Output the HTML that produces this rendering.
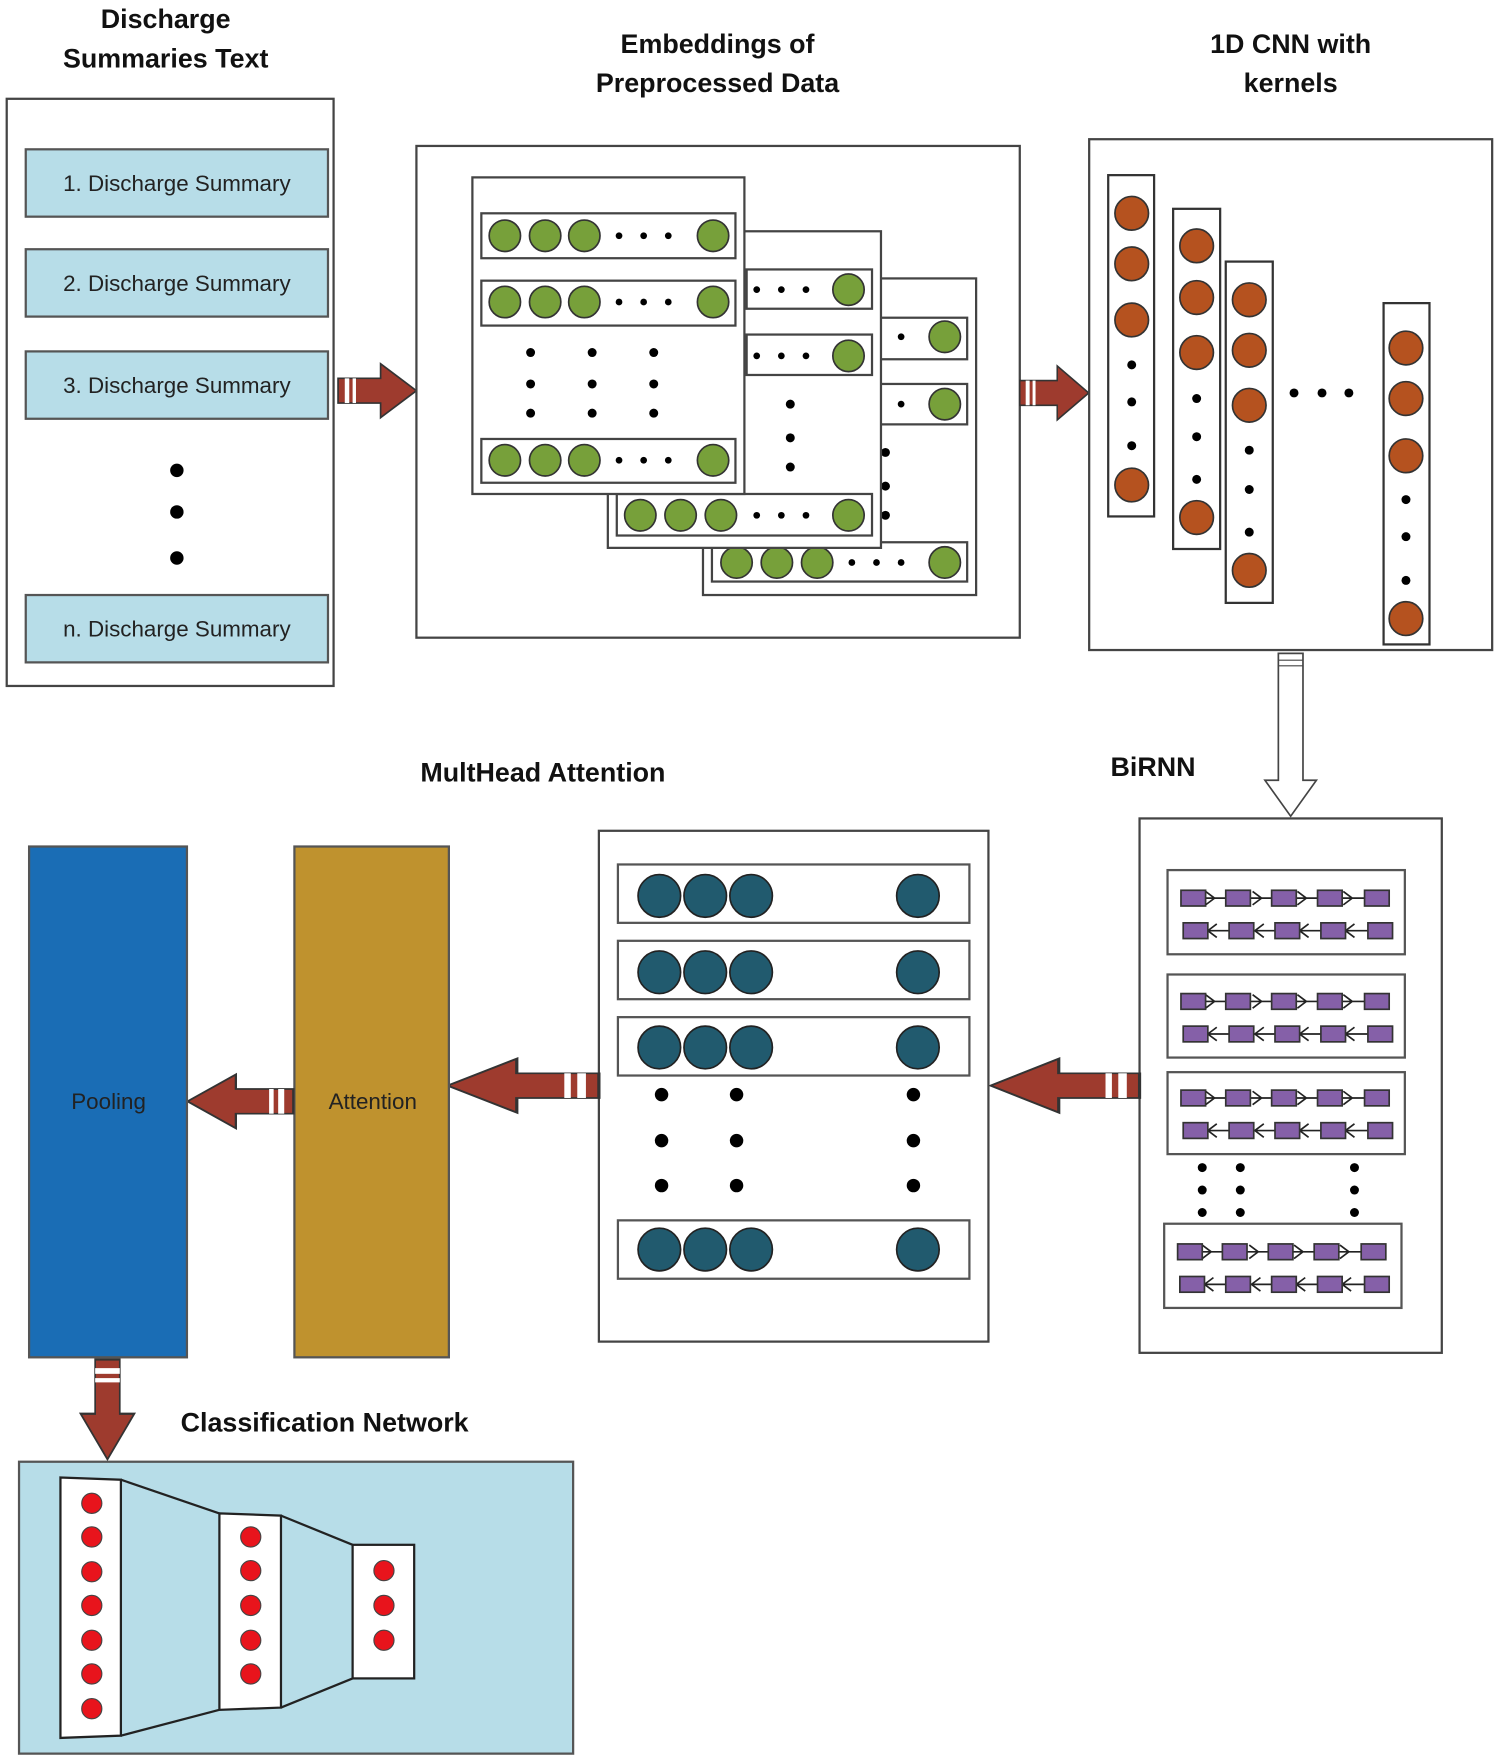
<!DOCTYPE html>
<html><head><meta charset="utf-8"><style>html,body{margin:0;padding:0;background:#fff}svg{display:block}</style></head><body>
<svg width="1500" height="1757" viewBox="0 0 1340 1565" preserveAspectRatio="none" xmlns="http://www.w3.org/2000/svg" font-family="Liberation Sans, sans-serif">
<defs>
<g id="ra"><path d="M0,-11 H38 V-24 L70,0 L38,24 V11 H0 Z" fill="#9e3b2e" stroke="#333" stroke-width="1.5"/><rect x="6" y="-11" width="4" height="22" fill="#fff"/><rect x="13" y="-11" width="3" height="22" fill="#fff"/></g>
<g id="brow"><rect x="0" y="-7" width="22" height="14" fill="#8560a8" stroke="#333" stroke-width="1.5"/></g>
</defs>
<g font-weight="bold" font-size="24" text-anchor="middle" fill="#111">
<text x="148" y="25">Discharge</text><text x="148" y="60">Summaries Text</text>
<text x="641" y="47">Embeddings of</text><text x="641" y="82">Preprocessed Data</text>
<text x="1153" y="47">1D CNN with</text><text x="1153" y="82">kernels</text>
<text x="1030" y="691">BiRNN</text>
<text x="485" y="696">MultHead Attention</text>
<text x="290" y="1275">Classification Network</text>
</g>
<!-- left box -->
<rect x="6" y="88" width="292" height="523" fill="#fff" stroke="#444" stroke-width="2"/>
<g fill="#b7dde8" stroke="#555" stroke-width="2">
<rect x="23" y="133" width="270" height="60"/><rect x="23" y="222" width="270" height="60"/><rect x="23" y="313" width="270" height="60"/><rect x="23" y="530" width="270" height="60"/></g>
<g font-size="20" text-anchor="middle" fill="#222">
<text x="158" y="170">1. Discharge Summary</text><text x="158" y="259">2. Discharge Summary</text><text x="158" y="350">3. Discharge Summary</text><text x="158" y="567">n. Discharge Summary</text></g>
<g fill="#000"><circle cx="158" cy="419" r="6"/><circle cx="158" cy="456" r="6"/><circle cx="158" cy="497" r="6"/></g>
<use href="#ra" transform="translate(302,348)"/>
<!-- embeddings -->
<rect x="372" y="130" width="539" height="438" fill="#fff" stroke="#444" stroke-width="2"/>
<g stroke="#444" stroke-width="2" fill="#fff">
<rect x="628" y="248" width="244" height="282"/>
<rect x="786" y="283" width="78" height="37"/><rect x="786" y="342" width="78" height="36"/><rect x="636" y="483" width="228" height="35"/>
</g>
<g fill="#000"><circle cx="805" cy="300" r="3"/><circle cx="805" cy="360" r="3"/><circle cx="791" cy="403" r="4"/><circle cx="791" cy="433" r="4"/><circle cx="791" cy="459" r="4"/><circle cx="761" cy="501" r="3"/><circle cx="783" cy="501" r="3"/><circle cx="805" cy="501" r="3"/></g>
<g fill="#77a03a" stroke="#333" stroke-width="1.5"><circle cx="844" cy="300" r="14"/><circle cx="844" cy="360" r="14"/><circle cx="658" cy="501" r="14"/><circle cx="694" cy="501" r="14"/><circle cx="730" cy="501" r="14"/><circle cx="844" cy="501" r="14"/></g>
<g stroke="#444" stroke-width="2" fill="#fff">
<rect x="543" y="206" width="244" height="282"/>
<rect x="667" y="240" width="112" height="35"/><rect x="667" y="298" width="112" height="36"/><rect x="551" y="440" width="228" height="37"/>
</g>
<g fill="#000"><circle cx="676" cy="258" r="3"/><circle cx="698" cy="258" r="3"/><circle cx="720" cy="258" r="3"/><circle cx="676" cy="317" r="3"/><circle cx="698" cy="317" r="3"/><circle cx="720" cy="317" r="3"/><circle cx="706" cy="360" r="4"/><circle cx="706" cy="390" r="4"/><circle cx="706" cy="416" r="4"/><circle cx="676" cy="459" r="3"/><circle cx="698" cy="459" r="3"/><circle cx="720" cy="459" r="3"/></g>
<g fill="#77a03a" stroke="#333" stroke-width="1.5"><circle cx="758" cy="258" r="14"/><circle cx="758" cy="317" r="14"/><circle cx="572" cy="459" r="14"/><circle cx="608" cy="459" r="14"/><circle cx="644" cy="459" r="14"/><circle cx="758" cy="459" r="14"/></g>
<g stroke="#444" stroke-width="2" fill="#fff">
<rect x="422" y="158" width="243" height="282"/>
<rect x="430" y="190" width="227" height="40"/><rect x="430" y="250" width="227" height="40"/><rect x="430" y="391" width="227" height="39"/>
</g>
<g fill="#000">
<circle cx="553" cy="210" r="3"/><circle cx="575" cy="210" r="3"/><circle cx="597" cy="210" r="3"/>
<circle cx="553" cy="269" r="3"/><circle cx="575" cy="269" r="3"/><circle cx="597" cy="269" r="3"/>
<circle cx="553" cy="410" r="3"/><circle cx="575" cy="410" r="3"/><circle cx="597" cy="410" r="3"/>
<circle cx="474" cy="314" r="4"/><circle cx="529" cy="314" r="4"/><circle cx="584" cy="314" r="4"/>
<circle cx="474" cy="342" r="4"/><circle cx="529" cy="342" r="4"/><circle cx="584" cy="342" r="4"/>
<circle cx="474" cy="368" r="4"/><circle cx="529" cy="368" r="4"/><circle cx="584" cy="368" r="4"/></g>
<g fill="#77a03a" stroke="#333" stroke-width="1.5">
<circle cx="451" cy="210" r="14"/><circle cx="487" cy="210" r="14"/><circle cx="522" cy="210" r="14"/><circle cx="637" cy="210" r="14"/>
<circle cx="451" cy="269" r="14"/><circle cx="487" cy="269" r="14"/><circle cx="522" cy="269" r="14"/><circle cx="637" cy="269" r="14"/>
<circle cx="451" cy="410" r="14"/><circle cx="487" cy="410" r="14"/><circle cx="522" cy="410" r="14"/><circle cx="637" cy="410" r="14"/></g>
<use href="#ra" transform="translate(911,350) scale(0.88,1)"/>
<!-- CNN -->
<rect x="973" y="124" width="360" height="455" fill="#fff" stroke="#444" stroke-width="2"/>
<g fill="#fff" stroke="#333" stroke-width="2"><rect x="990" y="156" width="41" height="304"/><rect x="1048" y="186" width="42" height="303"/><rect x="1095" y="233" width="42" height="304"/><rect x="1236" y="270" width="41" height="304"/></g>
<g fill="#b5521f" stroke="#333" stroke-width="1.5">
<circle cx="1011" cy="190" r="15"/><circle cx="1011" cy="235" r="15"/><circle cx="1011" cy="285" r="15"/><circle cx="1011" cy="432" r="15"/>
<circle cx="1069" cy="219" r="15"/><circle cx="1069" cy="265" r="15"/><circle cx="1069" cy="314" r="15"/><circle cx="1069" cy="461" r="15"/>
<circle cx="1116" cy="267" r="15"/><circle cx="1116" cy="312" r="15"/><circle cx="1116" cy="361" r="15"/><circle cx="1116" cy="508" r="15"/>
<circle cx="1256" cy="310" r="15"/><circle cx="1256" cy="355" r="15"/><circle cx="1256" cy="406" r="15"/><circle cx="1256" cy="551" r="15"/></g>
<g fill="#000">
<circle cx="1011" cy="325" r="4"/><circle cx="1011" cy="358" r="4"/><circle cx="1011" cy="397" r="4"/>
<circle cx="1069" cy="355" r="4"/><circle cx="1069" cy="389" r="4"/><circle cx="1069" cy="427" r="4"/>
<circle cx="1116" cy="401" r="4"/><circle cx="1116" cy="436" r="4"/><circle cx="1116" cy="474" r="4"/>
<circle cx="1256" cy="445" r="4"/><circle cx="1256" cy="478" r="4"/><circle cx="1256" cy="517" r="4"/>
<circle cx="1156" cy="350" r="4"/><circle cx="1181" cy="350" r="4"/><circle cx="1205" cy="350" r="4"/></g>
<!-- down hollow arrow -->
<path d="M1142,582 H1164 V695 H1176 L1153,727 L1130,695 H1142 Z" fill="#fff" stroke="#444" stroke-width="1.5"/>
<line x1="1142" y1="588" x2="1164" y2="588" stroke="#444"/><line x1="1142" y1="593" x2="1164" y2="593" stroke="#444"/>
<!-- BiRNN -->
<rect x="1018" y="729" width="270" height="476" fill="#fff" stroke="#444" stroke-width="2"/>
<g fill="#fff" stroke="#555" stroke-width="2"><rect x="1043" y="775" width="212" height="75"/><rect x="1043" y="868" width="212" height="74"/><rect x="1043" y="955" width="212" height="73"/><rect x="1040" y="1090" width="212" height="75"/></g>
<g id="bg">
<g stroke="#222" stroke-width="1.5" fill="none">
<path d="M1055,800 H1222 M1077,794 l8,6 l-8,6 M1119,794 l8,6 l-8,6 M1159,794 l8,6 l-8,6 M1200,794 l8,6 l-8,6"/>
<path d="M1057,829 H1224 M1087,823 l-8,6 l8,6 M1129,823 l-8,6 l8,6 M1169,823 l-8,6 l8,6 M1210,823 l-8,6 l8,6"/></g>
<use href="#brow" x="1055" y="800"/><use href="#brow" x="1095" y="800"/><use href="#brow" x="1136" y="800"/><use href="#brow" x="1177" y="800"/><use href="#brow" x="1219" y="800"/>
<use href="#brow" x="1057" y="829"/><use href="#brow" x="1098" y="829"/><use href="#brow" x="1139" y="829"/><use href="#brow" x="1180" y="829"/><use href="#brow" x="1222" y="829"/>
</g>
<use href="#bg" y="92"/><use href="#bg" y="178"/><use href="#bg" x="-3" y="315"/>
<g fill="#000"><circle cx="1074" cy="1040" r="4"/><circle cx="1074" cy="1060" r="4"/><circle cx="1074" cy="1080" r="4"/><circle cx="1108" cy="1040" r="4"/><circle cx="1108" cy="1060" r="4"/><circle cx="1108" cy="1080" r="4"/><circle cx="1210" cy="1040" r="4"/><circle cx="1210" cy="1060" r="4"/><circle cx="1210" cy="1080" r="4"/></g>
<use href="#ra" transform="translate(1018,967) scale(-1.9,1)"/>
<!-- MHA -->
<rect x="535" y="740" width="348" height="455" fill="#fff" stroke="#444" stroke-width="2"/>
<g fill="#fff" stroke="#555" stroke-width="2"><rect x="552" y="770" width="314" height="52"/><rect x="552" y="838" width="314" height="52"/><rect x="552" y="906" width="314" height="52"/><rect x="552" y="1087" width="314" height="52"/></g>
<g fill="#215a6e" stroke="#222" stroke-width="1.5">
<circle cx="589" cy="798" r="19"/><circle cx="630" cy="798" r="19"/><circle cx="671" cy="798" r="19"/><circle cx="820" cy="798" r="19"/>
<circle cx="589" cy="866" r="19"/><circle cx="630" cy="866" r="19"/><circle cx="671" cy="866" r="19"/><circle cx="820" cy="866" r="19"/>
<circle cx="589" cy="933" r="19"/><circle cx="630" cy="933" r="19"/><circle cx="671" cy="933" r="19"/><circle cx="820" cy="933" r="19"/>
<circle cx="589" cy="1113" r="19"/><circle cx="630" cy="1113" r="19"/><circle cx="671" cy="1113" r="19"/><circle cx="820" cy="1113" r="19"/></g>
<g fill="#000"><circle cx="591" cy="975" r="6"/><circle cx="658" cy="975" r="6"/><circle cx="816" cy="975" r="6"/><circle cx="591" cy="1016" r="6"/><circle cx="658" cy="1016" r="6"/><circle cx="816" cy="1016" r="6"/><circle cx="591" cy="1056" r="6"/><circle cx="658" cy="1056" r="6"/><circle cx="816" cy="1056" r="6"/></g>
<use href="#ra" transform="translate(535,967) scale(-1.93,1)"/>
<rect x="263" y="754" width="138" height="455" fill="#bf922e" stroke="#555" stroke-width="2"/>
<text x="333" y="988" font-size="20" text-anchor="middle" fill="#222">Attention</text>
<use href="#ra" transform="translate(262,981) scale(-1.35,1)"/>
<rect x="26" y="754" width="141" height="455" fill="#1a6db5" stroke="#555" stroke-width="2"/>
<text x="97" y="988" font-size="20" text-anchor="middle" fill="#222">Pooling</text>
<g transform="translate(96,1211) rotate(90) scale(1.27,1)"><use href="#ra"/></g>
<!-- classification -->
<rect x="17" y="1302" width="495" height="260" fill="#b7dde8" stroke="#555" stroke-width="2"/>
<g stroke="#222" stroke-width="2"><line x1="108" y1="1318" x2="196" y2="1348"/><line x1="108" y1="1546" x2="196" y2="1523"/><line x1="251" y1="1350" x2="315" y2="1376"/><line x1="251" y1="1521" x2="315" y2="1495"/></g>
<g fill="#fff" stroke="#222" stroke-width="2"><path d="M54,1316 L108,1318 V1546 L54,1548 Z"/><path d="M196,1348 L251,1350 V1521 L196,1523 Z"/><rect x="315" y="1376" width="55" height="119"/></g>
<g fill="#e8141c" stroke="#444" stroke-width="1">
<circle cx="82" cy="1339" r="9"/><circle cx="82" cy="1369" r="9"/><circle cx="82" cy="1400" r="9"/><circle cx="82" cy="1430" r="9"/><circle cx="82" cy="1461" r="9"/><circle cx="82" cy="1491" r="9"/><circle cx="82" cy="1522" r="9"/>
<circle cx="224" cy="1369" r="9"/><circle cx="224" cy="1399" r="9"/><circle cx="224" cy="1430" r="9"/><circle cx="224" cy="1461" r="9"/><circle cx="224" cy="1491" r="9"/>
<circle cx="343" cy="1399" r="9"/><circle cx="343" cy="1430" r="9"/><circle cx="343" cy="1461" r="9"/></g>
</svg>
</body></html>
